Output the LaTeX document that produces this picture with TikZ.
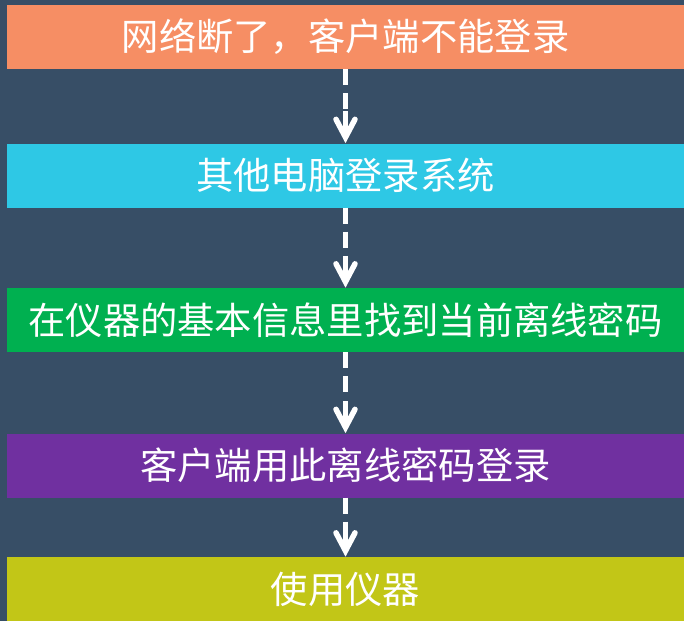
\documentclass[tikz,border=0pt]{standalone}
\usepackage{fontspec}
\newfontfamily\cjk{Noto Sans CJK SC}
\definecolor{bgc}{HTML}{374E66}
\definecolor{c1}{HTML}{F68E64}
\definecolor{c2}{HTML}{2EC8E5}
\definecolor{c3}{HTML}{00B050}
\definecolor{c4}{HTML}{7030A0}
\definecolor{c5}{HTML}{C2C617}
\begin{document}
\begin{tikzpicture}[x=1pt,y=-1pt,
  box/.style={rectangle, inner sep=0pt, minimum width=677pt, minimum height=64pt,
    text=white, font=\cjk\fontsize{37.3}{40}\selectfont},
  dashline/.style={draw=white, line width=5.5pt, line cap=butt, dash pattern=on 16pt off 8pt},
  headline/.style={draw=white, line width=5.5pt, line cap=butt},
  barb/.style={draw=white, line width=5.5pt, line cap=round, line join=miter}]
\useasboundingbox (0,0) rectangle (684,621);
\fill[bgc] (0,0) rectangle (684,621);
\node[box, fill=c1] (n1) at (345.5,37) {网络断了，客户端不能登录};
\node[box, fill=c2] (n2) at (345.5,175.5) {其他电脑登录系统};
\node[box, fill=c3] (n3) at (345.5,320) {在仪器的基本信息里找到当前离线密码};
\node[box, fill=c4] (n4) at (345.5,465.5) {客户端用此离线密码登录};
\node[box, fill=c5] (n5) at (345.5,589) {使用仪器};
\foreach \a/\b/\d/\h in {n1/n2/34/32,n2/n3/34/32,n3/n4/34/32,n4/n5/22/25}{
  \draw[dashline] (\a.south) -- ([yshift=\d pt]\b.north);
  \draw[headline] ([yshift=\h pt]\b.north) -- ([yshift=6pt]\b.north);
  \draw[barb] ([shift={(-9.5pt,24pt)}]\b.north) -- ([yshift=6pt]\b.north) -- ([shift={(9.5pt,24pt)}]\b.north);
}
\end{tikzpicture}
\end{document}
